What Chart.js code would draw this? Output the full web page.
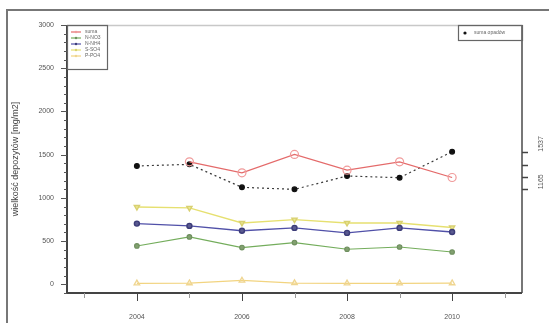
<!DOCTYPE html>
<html>
<head>
<meta charset="utf-8">
<script src="https://cdn.jsdelivr.net/npm/chart.js@4/dist/chart.umd.min.js"></script>
<style>
  html, body { margin: 0; padding: 0; background: #fff; }
  #wrap { width: 549px; height: 323px; position: relative; }
</style>
</head>
<body>
<div id="wrap"><canvas id="c" width="549" height="323"></canvas></div>
<script>
// Roczne depozyty (mg/m2) i suma opadów
const years   = [2004, 2005, 2006, 2007, 2008, 2009, 2010];
const suma    = [null, 1417, 1290, 1503, 1321, 1417, 1236];
const nNO3    = [444, 549, 425, 483, 406, 432, 374];
const nNH4    = [703, 676, 620, 653, 595, 653, 606];
const sSO4    = [895, 885, 710, 749, 710, 710, 657];
const pPO4    = [12, 14, 45, 15, 12, 12, 14];
const opady   = [1396, 1412, 1185, 1165, 1297, 1280, 1537];

const seriesLabels = ['suma', 'N-NO3', 'N-NH4', 'S-SO4', 'P-PO4'];
const opadyLabel = 'suma opadów';
const yTitle = 'wielkość depozytów [mg/m2]';

const xMajor = [2004, 2006, 2008, 2010];
const xTicks = [2003, 2004, 2005, 2006, 2007, 2008, 2009, 2010, 2011];
const yMajor = [0, 500, 1000, 1500, 2000, 2500, 3000];
const y2Ticks = [1165, 1290, 1410, 1537];
const y2Labelled = [1165, 1537];

const pts = arr => years.map((y, i) => ({ x: y, y: arr[i] }));

const FONT = 'Liberation Sans, Arial, sans-serif';

const ds = [
  { label: seriesLabels[0], data: pts(suma), borderColor: '#e46a6a', borderWidth: 1.3,
    pointStyle: 'circle', pointRadius: 4, pointBorderColor: '#f09a9a', pointBackgroundColor: 'rgba(255,255,255,0)', pointBorderWidth: 1.2, yAxisID: 'y' },
  { label: seriesLabels[1], data: pts(nNO3), borderColor: '#74ad5c', borderWidth: 1.1,
    pointStyle: 'circle', pointRadius: 2.3, pointBorderColor: '#6e8f5e', pointBackgroundColor: '#82a070', yAxisID: 'y' },
  { label: seriesLabels[2], data: pts(nNH4), borderColor: '#5050a8', borderWidth: 1.4,
    pointStyle: 'circle', pointRadius: 2.5, pointBorderColor: '#3c3c78', pointBackgroundColor: '#5a5a90', yAxisID: 'y' },
  { label: seriesLabels[3], data: pts(sSO4), borderColor: '#e6e070', borderWidth: 1.4,
    pointStyle: 'triangle', rotation: 180, pointRadius: 3, pointBorderColor: '#d8d070', pointBackgroundColor: '#ece890', yAxisID: 'y' },
  { label: seriesLabels[4], data: pts(pPO4), borderColor: '#f2d480', borderWidth: 1.3,
    pointStyle: 'triangle', pointRadius: 3.2, pointBorderColor: '#efd590', pointBackgroundColor: 'rgba(255,255,255,0)', yAxisID: 'y' },
  { label: opadyLabel, data: pts(opady), borderColor: '#3a3a3a', borderWidth: 1.2, borderDash: [2, 3],
    pointStyle: 'circle', pointRadius: 2.4, pointBorderColor: '#111', pointBackgroundColor: '#111', yAxisID: 'y2' }
];

// Ramka strony, ramka wykresu, podziałki osi i legendy
const decor = {
  id: 'decor',
  beforeDraw(chart) {
    const c = chart.ctx;
    c.save();
    c.fillStyle = '#fff';
    c.fillRect(0, 0, chart.width, chart.height);
    c.strokeStyle = '#777';
    c.lineWidth = 2;
    c.beginPath();
    c.moveTo(7, 323); c.lineTo(7, 10); c.lineTo(549, 10);
    c.stroke();
    c.restore();
  },
  afterDraw(chart) {
    const c = chart.ctx;
    const a = chart.chartArea;
    const sx = chart.scales.x, sy = chart.scales.y, sy2 = chart.scales.y2;
    c.save();
    // górna i prawa krawędź pola wykresu
    c.strokeStyle = '#c8c8c8'; c.lineWidth = 1.5;
    c.beginPath(); c.moveTo(a.left, a.top + 0.5); c.lineTo(a.right, a.top + 0.5); c.stroke();
    c.strokeStyle = '#777'; c.lineWidth = 2;
    c.beginPath(); c.moveTo(a.right, a.top); c.lineTo(a.right, a.bottom); c.stroke();
    // osie lewa i dolna
    c.strokeStyle = '#444'; c.lineWidth = 2;
    c.beginPath(); c.moveTo(a.left, a.top); c.lineTo(a.left, a.bottom); c.lineTo(a.right, a.bottom); c.stroke();
    // podziałki osi Y
    c.lineWidth = 1; c.strokeStyle = '#555';
    for (let v = -100; v <= 3000; v += 100) {
      const p = Math.round(sy.getPixelForValue(v)) + 0.5;
      const len = yMajor.includes(v) ? 6 : 3;
      c.beginPath(); c.moveTo(a.left - len, p); c.lineTo(a.left, p); c.stroke();
    }
    // podziałki osi X
    xTicks.forEach(v => {
      const p = Math.round(sx.getPixelForValue(v)) + 0.5;
      const len = xMajor.includes(v) ? 8 : 5;
      c.strokeStyle = xMajor.includes(v) ? '#444' : '#999';
      c.beginPath(); c.moveTo(p, a.bottom); c.lineTo(p, a.bottom + len); c.stroke();
    });
    // podziałki prawej osi
    c.strokeStyle = '#444'; c.lineWidth = 1.5;
    y2Ticks.forEach(v => {
      const p = Math.round(sy2.getPixelForValue(v)) + 0.5;
      c.beginPath(); c.moveTo(a.right, p); c.lineTo(a.right + 6, p); c.stroke();
    });

    // legenda serii depozytów
    const lx = a.left, ly = a.top, lw = 40, lh = 44;
    c.strokeStyle = '#666'; c.lineWidth = 1.2;
    c.strokeRect(lx + 0.5, ly + 0.5, lw, lh);
    c.font = '5px ' + FONT;
    c.textBaseline = 'middle';
    for (let i = 0; i < 5; i++) {
      const d = chart.data.datasets[i];
      const yy = ly + 7 + i * 6;
      c.strokeStyle = d.borderColor; c.lineWidth = 1.2;
      c.beginPath(); c.moveTo(lx + 4, yy); c.lineTo(lx + 14, yy); c.stroke();
      c.fillStyle = d.pointBorderColor;
      c.beginPath(); c.arc(lx + 9, yy, 1.2, 0, Math.PI * 2); c.fill();
      c.fillStyle = '#666';
      c.fillText(d.label, lx + 18, yy);
    }
    // legenda opadów
    const d = chart.data.datasets[5];
    const rx = a.right - 64, ry = a.top;
    c.strokeStyle = '#666'; c.lineWidth = 1.2;
    c.strokeRect(rx + 0.5, ry + 0.5, 64, 15);
    c.fillStyle = d.pointBackgroundColor;
    c.beginPath(); c.arc(rx + 7, ry + 8, 1.6, 0, Math.PI * 2); c.fill();
    c.fillStyle = '#666';
    c.font = '5px ' + FONT;
    c.fillText(d.label, rx + 16, ry + 8);
    c.restore();
  }
};

new Chart(document.getElementById('c'), {
  type: 'line',
  data: { datasets: ds },
  options: {
    responsive: false,
    animation: false,
    events: [],
    layout: { padding: { top: 25, left: 0, right: 0, bottom: 0 } },
    plugins: { legend: { display: false }, tooltip: { enabled: false } },
    scales: {
      x: {
        type: 'linear', min: 2002.67, max: 2011.33,
        afterBuildTicks: s => { s.ticks = xTicks.map(v => ({ value: v })); },
        afterFit: s => { s.height = 30; },
        grid: { display: false, drawTicks: false },
        border: { display: false },
        ticks: {
          autoSkip: false, maxRotation: 0, padding: 20, color: '#555',
          font: { family: FONT, size: 7 },
          callback: v => xMajor.includes(v) ? String(v) : ''
        }
      },
      y: {
        type: 'linear', min: -100, max: 3000, position: 'left',
        afterBuildTicks: s => { s.ticks = yMajor.map(v => ({ value: v })); },
        afterFit: s => { s.width = 67; },
        grid: { display: false, drawTicks: false },
        border: { display: false },
        ticks: { padding: 13, color: '#555', font: { family: FONT, size: 7 }, callback: v => String(v) },
        title: { display: true, text: yTitle, color: '#444', font: { family: FONT, size: 9 }, padding: { top: 10, bottom: 0 } }
      },
      y2: {
        type: 'linear', min: 140, max: 2790, position: 'right',
        afterBuildTicks: s => { s.ticks = y2Ticks.map(v => ({ value: v })); },
        afterFit: s => { s.width = 27; },
        grid: { display: false, drawTicks: false },
        border: { display: false },
        ticks: {
          minRotation: 90, maxRotation: 90, padding: 19, color: '#555',
          font: { family: FONT, size: 7 },
          callback: v => y2Labelled.includes(v) ? String(v) : ''
        }
      }
    }
  },
  plugins: [decor]
});
</script>
</body>
</html>
